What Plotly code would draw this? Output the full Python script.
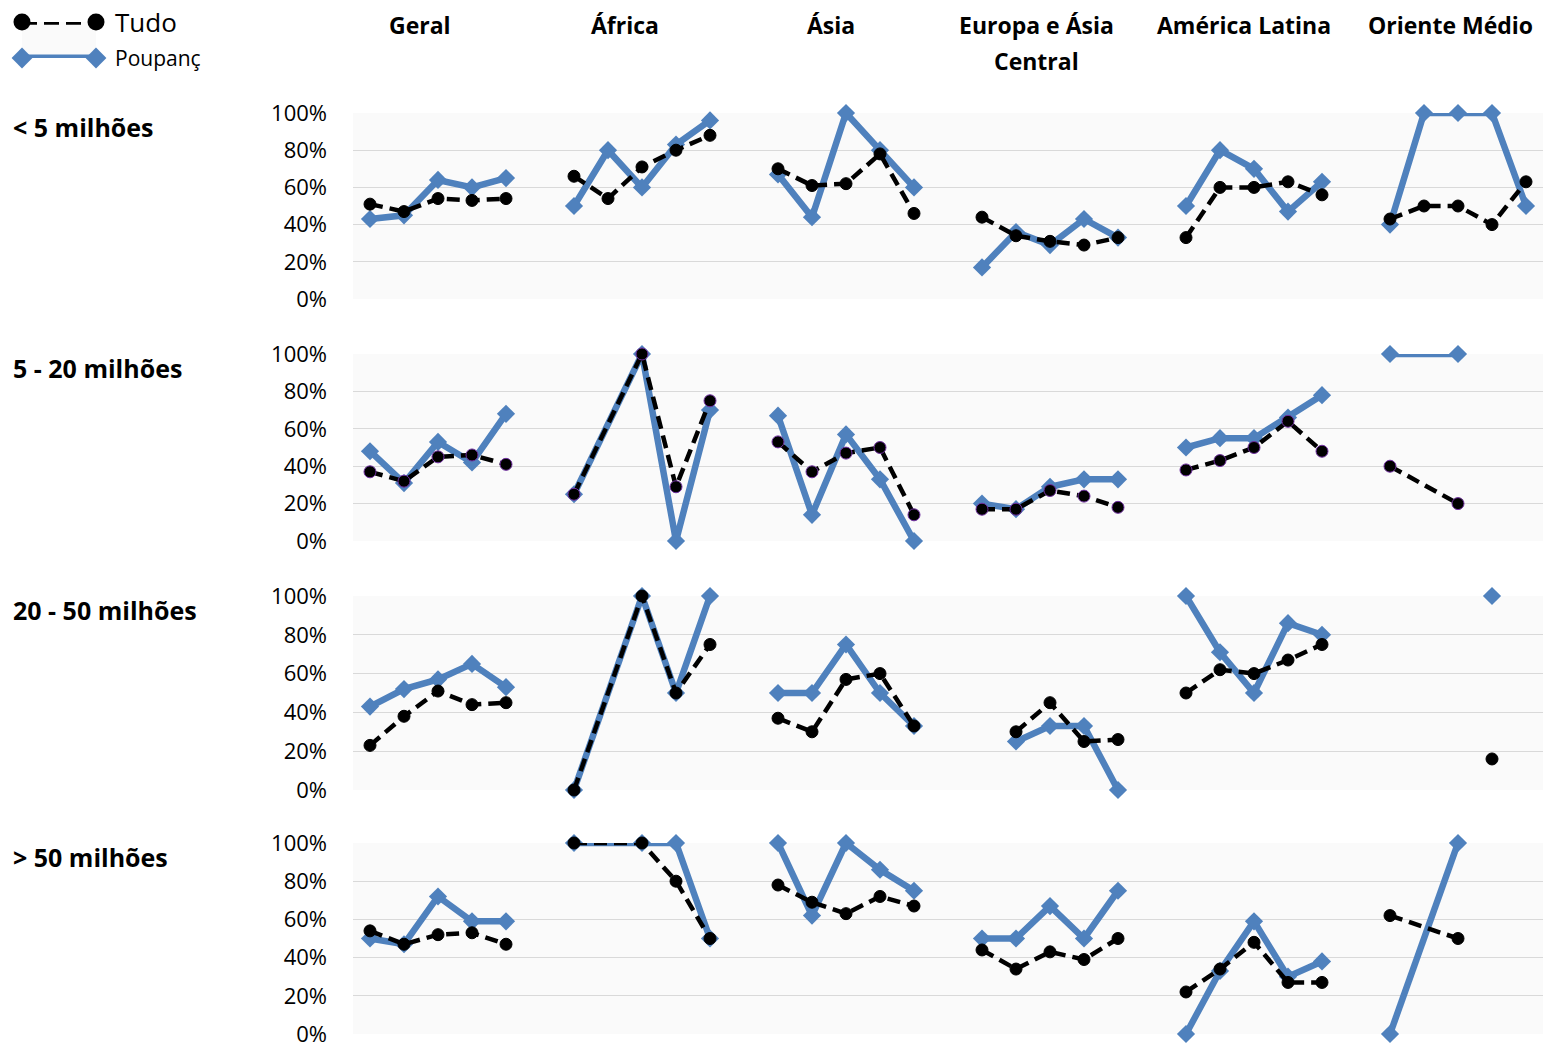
import plotly.graph_objects as go

W, H = 1543, 1049

# ---------------------------------------------------------
# DATA (percent, None = no value)
# ---------------------------------------------------------
title_lines = [["Geral"], ["África"], ["Ásia"], ["Europa e Ásia", "Central"],
               ["América Latina"], ["Oriente Médio"]]
row_labels = ["< 5 milhões", "5 - 20 milhões", "20 - 50 milhões", "> 50 milhões"]
ticks = [0, 20, 40, 60, 80, 100]
tick_text = [f"{t}%" for t in ticks]

#            Geral                  África                    Ásia                   Europa                 América                Oriente
tudo_lt5 = [51, 47, 54, 53, 54,   66, 54, 71, 80, 88,      70, 61, 62, 78, 46,    44, 34, 31, 29, 33,    33, 60, 60, 63, 56,    43, 50, 50, 40, 63]
poup_lt5 = [43, 45, 64, 60, 65,   50, 80, 60, 83, 96,      67, 44, 100, 80, 60,   17, 36, 29, 43, 33,    50, 80, 70, 47, 63,    40, 100, 100, 100, 50]

tudo_5_20 = [37, 32, 45, 46, 41,  25, None, 100, 29, 75,   53, 37, 47, 50, 14,    17, 17, 27, 24, 18,    38, 43, 50, 64, 48,    40, None, 20, None, None]
poup_5_20 = [48, 31, 53, 42, 68,  25, None, 100, 0, 70,    67, 14, 57, 33, 0,     20, 17, 29, 33, 33,    50, 55, 55, 66, 78,    100, None, 100, None, None]

tudo_20_50 = [23, 38, 51, 44, 45, 0, None, 100, 50, 75,    37, 30, 57, 60, 33,    None, 30, 45, 25, 26,  50, 62, 60, 67, 75,    None, None, None, 16, None]
poup_20_50 = [43, 52, 57, 65, 53, 0, None, 100, 50, 100,   50, 50, 75, 50, 33,    None, 25, 33, 33, 0,   100, 71, 50, 86, 80,   None, None, None, 100, None]

tudo_gt50 = [54, 47, 52, 53, 47,  100, None, 100, 80, 50,  78, 69, 63, 72, 67,    44, 34, 43, 39, 50,    22, 34, 48, 27, 27,    62, None, 50, None, None]
poup_gt50 = [50, 47, 72, 59, 59,  100, None, 100, 100, 50, 100, 62, 100, 86, 75,  50, 50, 67, 50, 75,    0, 33, 59, 30, 38,     0, None, 100, None, None]

rows = [(tudo_lt5, poup_lt5), (tudo_5_20, poup_5_20),
        (tudo_20_50, poup_20_50), (tudo_gt50, poup_gt50)]

# ---------------------------------------------------------
# STYLE
# ---------------------------------------------------------
BLUE = "#4F81BD"
FONT = "Open Sans"
row_px = [(113, 299), (354, 541), (596, 790), (843, 1034)]  # top, bottom of each row
title_dx = [-18, -17, -15, -14, -10, -8]  # column titles sit a bit left of their group
n_pts = 5
slot = n_pts + 1
TUDO_LINE = dict(color="black", width=4.5, dash="13px,7px")

fig = go.Figure()

for r, (tudo, poup) in enumerate(rows):
    ax = "" if r == 0 else str(r + 1)
    for g in range(len(title_lines)):
        for vals, is_tudo in ((poup, False), (tudo, True)):
            xs, ys = [], []
            for i in range(n_pts):
                v = vals[g * n_pts + i]
                if v is not None:
                    xs.append(g * slot + i)
                    ys.append(v)
            if not xs:
                continue
            if is_tudo:
                line = TUDO_LINE
                marker = dict(symbol="circle", size=12, color="black",
                              line=dict(color="#7030A0" if r == 1 else "black", width=1))
            else:
                line = dict(color=BLUE, width=6.5)
                marker = dict(symbol="diamond", size=14, color=BLUE, line=dict(width=0))
            fig.add_trace(go.Scatter(
                x=xs, y=ys, mode="lines+markers", line=line, marker=marker,
                xaxis="x" + ax, yaxis="y" + ax, cliponaxis=False,
                showlegend=False, hoverinfo="skip"))

    top, bot = row_px[r]
    fig.layout["xaxis" + ax] = dict(
        domain=[353 / W, 1], range=[-0.5, len(title_lines) * slot - 1.5],
        showticklabels=False, showgrid=False, zeroline=False, showline=False,
        automargin=False, anchor="y" + ax)
    fig.layout["yaxis" + ax] = dict(
        domain=[1 - bot / H, 1 - top / H], range=[0, 100],
        tickmode="array", tickvals=ticks, ticktext=tick_text,
        showgrid=True, gridcolor="#D9D9D9", gridwidth=1,
        zeroline=False, showline=False, ticks="", automargin=False,
        ticklabeloverflow="allow",
        ticklabelstandoff=25, tickfont=dict(family=FONT, size=22, color="black"),
        anchor="x" + ax)

# legend keys on their own little axis
fig.add_trace(go.Scatter(
    x=[0, 1], y=[1, 1], mode="lines+markers", xaxis="x5", yaxis="y5",
    line=dict(color="black", width=5.5, dash="15px,7px"),
    marker=dict(symbol="circle", size=17, color="black"),
    cliponaxis=False, showlegend=False, hoverinfo="skip"))
fig.add_trace(go.Scatter(
    x=[0, 1], y=[0, 0], mode="lines+markers", xaxis="x5", yaxis="y5",
    line=dict(color=BLUE, width=7), marker=dict(symbol="diamond", size=16, color=BLUE),
    cliponaxis=False, showlegend=False, hoverinfo="skip"))
fig.layout["xaxis5"] = dict(domain=[22 / W, 96 / W], range=[0, 1], visible=False,
                            automargin=False, anchor="y5")
fig.layout["yaxis5"] = dict(domain=[1 - 58 / H, 1 - 22 / H], range=[0, 1], visible=False,
                            automargin=False, anchor="x5")

# ---------------------------------------------------------
# TEXT
# ---------------------------------------------------------
ann = []
for g, lines in enumerate(title_lines):
    for k, t in enumerate(lines):
        ann.append(dict(x=g * slot + 2, xref="x", xshift=title_dx[g],
                        y=1 - (25 + 36 * k) / H, yref="paper",
                        text=f"<b>{t}</b>", showarrow=False, xanchor="center", yanchor="middle",
                        font=dict(family=FONT, size=23, color="black")))
for r, lab in enumerate(row_labels):
    ann.append(dict(x=11 / W, xref="paper", y=1 - (row_px[r][0] + 14) / H, yref="paper",
                    text=f"<b>{lab}</b>", showarrow=False, xanchor="left", yanchor="middle",
                    font=dict(family=FONT, size=25, color="black")))
ann.append(dict(x=113 / W, xref="paper", y=1 - 22 / H, yref="paper", text="Tudo",
                showarrow=False, xanchor="left", yanchor="middle",
                font=dict(family=FONT, size=26, color="black")))
ann.append(dict(x=113 / W, xref="paper", y=1 - 58 / H, yref="paper", text="Poupanç",
                showarrow=False, xanchor="left", yanchor="middle",
                font=dict(family=FONT, size=21, color="black")))

fig.update_layout(
    template="none",
    width=W, height=H,
    margin=dict(l=0, r=0, t=0, b=0, pad=0),
    paper_bgcolor="white",
    plot_bgcolor="#FAFAFA",
    annotations=ann,
    showlegend=False,
    font=dict(family=FONT, color="black"),
)

fig.write_html("out.html", config={"displayModeBar": False},
               post_script="document.body.style.margin='0';document.body.style.overflow='hidden';")
